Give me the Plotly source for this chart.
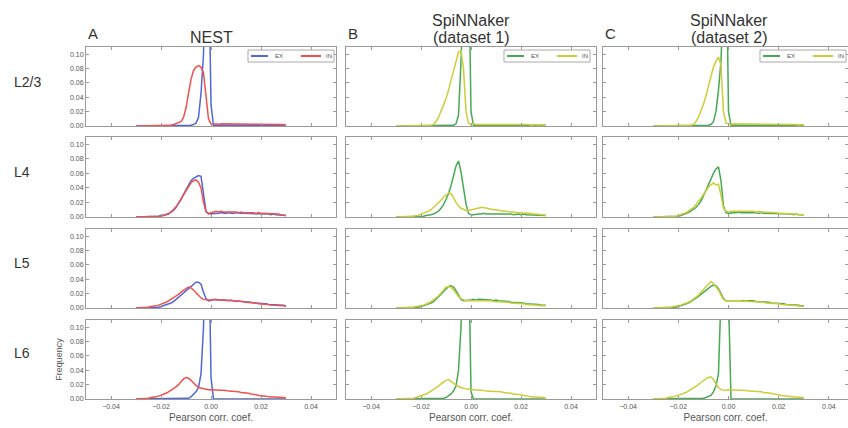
import plotly.graph_objects as go

# ---------------- data ----------------
CORR_BINS = [
    -0.030, -0.029, -0.028, -0.027, -0.026, -0.025, -0.024, -0.023, -0.022, -0.021,
    -0.020, -0.019, -0.018, -0.017, -0.016, -0.015, -0.014, -0.013, -0.012, -0.011,
    -0.010, -0.009, -0.008, -0.007, -0.006, -0.005, -0.004, -0.003, -0.002, -0.001,
    0.000, 0.001, 0.002, 0.003, 0.004, 0.005, 0.006, 0.007, 0.008, 0.009,
    0.010, 0.011, 0.012, 0.013, 0.014, 0.015, 0.016, 0.017, 0.018, 0.019,
    0.020, 0.021, 0.022, 0.023, 0.024, 0.025, 0.026, 0.027, 0.028, 0.029, 0.030,
]

ROW_LABELS = ["L2/3", "L4", "L5", "L6"]
PANEL_LETTERS = ["A", "B", "C"]
COLUMN_TITLES = [["NEST"], ["SpiNNaker", "(dataset 1)"], ["SpiNNaker", "(dataset 2)"]]
SERIES_NAMES = ["EX", "IN"]
X_TICKS = [-0.04, -0.02, 0.00, 0.02, 0.04]
Y_TICKS = [0.00, 0.02, 0.04, 0.06, 0.08, 0.10]

# NEST
NEST_L23_EX = [
    0, 0, 0, 0, 0, 0, 0, 0, 0, 0,
    0, 0, 0, 0, 0, 0, 0, 0, 0, 0,
    0, 0, 0.001, 0.002, 0.004, 0.012, 0.045, 0.10, 0.24, 0.25,
    0.03, 0.001, 0.001, 0.001, 0.001, 0.001, 0.001, 0.001, 0.001, 0.001,
    0.001, 0.001, 0.001, 0.001, 0.001, 0.001, 0.001, 0.001, 0.001, 0.001,
    0.001, 0.001, 0.001, 0.001, 0.001, 0.001, 0.001, 0.001, 0.001, 0.001, 0.001,
]
NEST_L23_IN = [
    0, 0, 0, 0, 0, 0, 0, 0, 0, 0,
    0, 0, 0.001, 0.001, 0.001, 0.002, 0.003, 0.004, 0.006, 0.012,
    0.025, 0.045, 0.065, 0.077, 0.082, 0.084, 0.082, 0.074, 0.045, 0.010,
    0.003, 0.002, 0.003, 0.002, 0.003, 0.003, 0.002, 0.003, 0.003, 0.002,
    0.003, 0.003, 0.002, 0.003, 0.003, 0.002, 0.003, 0.003, 0.002, 0.003,
    0.003, 0.002, 0.003, 0.002, 0.003, 0.002, 0.002, 0.003, 0.002, 0.002, 0.001,
]
NEST_L4_EX = [
    0, 0, 0, 0, 0, 0, 0, 0, 0, 0.001,
    0.002, 0.002, 0.003, 0.004, 0.006, 0.009, 0.013, 0.018, 0.024, 0.031,
    0.038, 0.045, 0.050, 0.053, 0.055, 0.057, 0.056, 0.035, 0.008, 0.004,
    0.004, 0.005, 0.005, 0.005, 0.006, 0.005, 0.005, 0.006, 0.005, 0.005,
    0.006, 0.005, 0.005, 0.005, 0.005, 0.004, 0.005, 0.005, 0.004, 0.005,
    0.004, 0.004, 0.004, 0.004, 0.003, 0.004, 0.003, 0.003, 0.003, 0.003, 0.002,
]
NEST_L4_IN = [
    0, 0, 0, 0, 0, 0, 0, 0.001, 0.001, 0.001,
    0.001, 0.002, 0.003, 0.005, 0.007, 0.010, 0.014, 0.019, 0.024, 0.030,
    0.036, 0.042, 0.047, 0.050, 0.051, 0.048, 0.040, 0.020, 0.007, 0.005,
    0.006, 0.007, 0.008, 0.007, 0.008, 0.007, 0.007, 0.008, 0.007, 0.007,
    0.007, 0.006, 0.007, 0.006, 0.006, 0.007, 0.006, 0.006, 0.005, 0.006,
    0.005, 0.005, 0.005, 0.004, 0.005, 0.004, 0.004, 0.004, 0.003, 0.003, 0.002,
]
NEST_L5_EX = [
    0, 0, 0, 0, 0, 0, 0, 0, 0.001, 0.001,
    0.002, 0.003, 0.004, 0.005, 0.007, 0.009, 0.012, 0.015, 0.018, 0.021,
    0.025, 0.028, 0.031, 0.034, 0.036, 0.036, 0.033, 0.022, 0.013, 0.010,
    0.011, 0.011, 0.012, 0.011, 0.011, 0.011, 0.010, 0.011, 0.010, 0.010,
    0.009, 0.010, 0.009, 0.009, 0.008, 0.008, 0.008, 0.007, 0.007, 0.007,
    0.006, 0.006, 0.006, 0.005, 0.005, 0.005, 0.004, 0.004, 0.004, 0.004, 0.003,
]
NEST_L5_IN = [
    0, 0, 0.001, 0.001, 0.001, 0.001, 0.002, 0.002, 0.003, 0.004,
    0.005, 0.006, 0.008, 0.010, 0.012, 0.014, 0.017, 0.019, 0.022, 0.025,
    0.027, 0.029, 0.028, 0.025, 0.021, 0.017, 0.014, 0.012, 0.011, 0.011,
    0.011, 0.012, 0.011, 0.011, 0.012, 0.011, 0.011, 0.010, 0.011, 0.010,
    0.010, 0.009, 0.010, 0.009, 0.008, 0.008, 0.008, 0.007, 0.007, 0.006,
    0.006, 0.005, 0.005, 0.005, 0.004, 0.004, 0.004, 0.003, 0.003, 0.003, 0.002,
]
NEST_L6_EX = [
    0, 0, 0, 0, 0, 0, 0, 0, 0, 0,
    0, 0, 0, 0, 0, 0, 0, 0, 0, 0,
    0, 0.001, 0.003, 0.006, 0.010, 0.016, 0.035, 0.10, 0.22, 0.25,
    0.03, 0, 0, 0, 0, 0, 0, 0, 0, 0,
    0, 0, 0, 0, 0, 0, 0, 0, 0, 0,
    0, 0, 0, 0, 0, 0, 0, 0, 0, 0, 0,
]
NEST_L6_IN = [
    0, 0, 0.001, 0.001, 0.001, 0.001, 0.002, 0.002, 0.003, 0.004,
    0.005, 0.006, 0.008, 0.010, 0.012, 0.014, 0.017, 0.020, 0.024, 0.028,
    0.030, 0.029, 0.026, 0.022, 0.019, 0.016, 0.015, 0.014, 0.013, 0.013,
    0.013, 0.013, 0.013, 0.012, 0.012, 0.012, 0.012, 0.011, 0.011, 0.011,
    0.010, 0.010, 0.009, 0.009, 0.008, 0.008, 0.007, 0.007, 0.006, 0.005,
    0.005, 0.004, 0.004, 0.003, 0.003, 0.003, 0.002, 0.002, 0.002, 0.002, 0.001,
]

# SpiNNaker dataset 1
SPIN1_L23_EX = [
    0, 0, 0, 0, 0, 0, 0, 0, 0, 0,
    0, 0, 0, 0, 0, 0, 0, 0, 0, 0,
    0, 0, 0, 0.001, 0.003, 0.015, 0.09, 0.25, 0.28, 0.25,
    0.02, 0.001, 0.001, 0.001, 0.001, 0.001, 0.001, 0.001, 0.001, 0.001,
    0.001, 0.001, 0.001, 0.001, 0.001, 0.001, 0.001, 0.001, 0.001, 0.001,
    0.001, 0.001, 0.001, 0.001, 0.001, 0.001, 0.001, 0.001, 0.001, 0.001, 0.001,
]
SPIN1_L23_IN = [
    0, 0, 0, 0, 0, 0, 0, 0, 0, 0,
    0, 0, 0.001, 0.001, 0.001, 0.002, 0.006, 0.012, 0.020, 0.028,
    0.038, 0.050, 0.064, 0.078, 0.092, 0.103, 0.105, 0.080, 0.020, 0.004,
    0.002, 0.003, 0.002, 0.002, 0.003, 0.002, 0.003, 0.002, 0.002, 0.003,
    0.002, 0.003, 0.002, 0.002, 0.002, 0.003, 0.002, 0.002, 0.002, 0.002,
    0.002, 0.002, 0.002, 0.002, 0.001, 0.002, 0.002, 0.001, 0.002, 0.001, 0.001,
]
SPIN1_L4_EX = [
    0, 0, 0, 0, 0, 0, 0, 0, 0, 0,
    0.001, 0.001, 0.002, 0.002, 0.003, 0.004, 0.006, 0.008, 0.012, 0.017,
    0.024, 0.032, 0.043, 0.055, 0.070, 0.077, 0.062, 0.040, 0.018, 0.005,
    0.003, 0.003, 0.004, 0.004, 0.004, 0.005, 0.004, 0.004, 0.005, 0.004,
    0.004, 0.004, 0.005, 0.004, 0.004, 0.004, 0.004, 0.003, 0.004, 0.004,
    0.003, 0.004, 0.003, 0.003, 0.003, 0.003, 0.003, 0.003, 0.002, 0.002, 0.002,
]
SPIN1_L4_IN = [
    0, 0, 0, 0, 0, 0, 0.001, 0.001, 0.002, 0.002,
    0.004, 0.005, 0.006, 0.008, 0.010, 0.013, 0.016, 0.019, 0.023, 0.027,
    0.030, 0.033, 0.032, 0.027, 0.020, 0.015, 0.012, 0.010, 0.009, 0.009,
    0.010, 0.011, 0.011, 0.012, 0.013, 0.013, 0.012, 0.012, 0.011, 0.010,
    0.010, 0.009, 0.009, 0.008, 0.008, 0.007, 0.007, 0.007, 0.006, 0.006,
    0.006, 0.005, 0.005, 0.005, 0.004, 0.004, 0.004, 0.003, 0.003, 0.003, 0.002,
]
SPIN1_L5_EX = [
    0, 0, 0, 0, 0, 0, 0, 0, 0.001, 0.001,
    0.002, 0.003, 0.004, 0.005, 0.007, 0.009, 0.012, 0.015, 0.019, 0.023,
    0.027, 0.030, 0.031, 0.029, 0.024, 0.017, 0.012, 0.010, 0.010, 0.011,
    0.011, 0.012, 0.011, 0.012, 0.012, 0.011, 0.012, 0.011, 0.011, 0.010,
    0.011, 0.010, 0.010, 0.009, 0.009, 0.009, 0.008, 0.008, 0.007, 0.008,
    0.007, 0.007, 0.006, 0.006, 0.006, 0.005, 0.005, 0.005, 0.004, 0.004, 0.004,
]
SPIN1_L5_IN = [
    0, 0, 0, 0, 0.001, 0.001, 0.001, 0.001, 0.002, 0.002,
    0.003, 0.004, 0.005, 0.007, 0.009, 0.011, 0.014, 0.017, 0.021, 0.025,
    0.029, 0.030, 0.029, 0.025, 0.020, 0.016, 0.013, 0.011, 0.010, 0.010,
    0.010, 0.011, 0.011, 0.010, 0.011, 0.011, 0.010, 0.010, 0.010, 0.009,
    0.009, 0.009, 0.009, 0.008, 0.008, 0.008, 0.007, 0.007, 0.007, 0.006,
    0.006, 0.006, 0.005, 0.005, 0.005, 0.004, 0.004, 0.004, 0.003, 0.003, 0.003,
]
SPIN1_L6_EX = [
    0, 0, 0, 0, 0, 0, 0, 0, 0, 0,
    0, 0, 0, 0, 0, 0, 0, 0, 0, 0.001,
    0.002, 0.004, 0.007, 0.011, 0.018, 0.040, 0.10, 0.22, 0.26, 0.22,
    0.01, 0, 0, 0, 0, 0, 0, 0, 0, 0,
    0, 0, 0, 0, 0, 0, 0, 0, 0, 0,
    0, 0, 0, 0, 0, 0, 0, 0, 0, 0, 0,
]
SPIN1_L6_IN = [
    0, 0, 0, 0, 0.001, 0.001, 0.001, 0.001, 0.002, 0.003,
    0.004, 0.005, 0.007, 0.009, 0.011, 0.013, 0.015, 0.018, 0.021, 0.024,
    0.026, 0.027, 0.025, 0.022, 0.019, 0.017, 0.016, 0.015, 0.014, 0.014,
    0.013, 0.013, 0.013, 0.012, 0.012, 0.012, 0.011, 0.011, 0.011, 0.011,
    0.010, 0.010, 0.010, 0.009, 0.009, 0.008, 0.008, 0.007, 0.007, 0.006,
    0.006, 0.005, 0.005, 0.004, 0.003, 0.003, 0.003, 0.002, 0.002, 0.002, 0.001,
]

# SpiNNaker dataset 2
SPIN2_L23_EX = [
    0, 0, 0, 0, 0, 0, 0, 0, 0, 0,
    0, 0, 0, 0, 0, 0, 0, 0, 0, 0,
    0, 0.001, 0.001, 0.002, 0.006, 0.020, 0.050, 0.090, 0.20, 0.28,
    0.02, 0.001, 0.001, 0.001, 0.001, 0.001, 0.001, 0.001, 0.001, 0.001,
    0.001, 0.001, 0.001, 0.001, 0.001, 0.001, 0.001, 0.001, 0.001, 0.001,
    0.001, 0.001, 0.001, 0.001, 0.001, 0.001, 0.001, 0.001, 0.001, 0.001, 0.001,
]
SPIN2_L23_IN = [
    0, 0, 0, 0, 0, 0, 0, 0, 0, 0,
    0, 0, 0, 0.001, 0.001, 0.001, 0.002, 0.006, 0.012, 0.020,
    0.030, 0.042, 0.056, 0.070, 0.082, 0.090, 0.096, 0.085, 0.020, 0.004,
    0.003, 0.002, 0.003, 0.003, 0.002, 0.003, 0.003, 0.002, 0.003, 0.003,
    0.003, 0.002, 0.003, 0.003, 0.003, 0.002, 0.003, 0.002, 0.003, 0.002,
    0.002, 0.003, 0.002, 0.002, 0.002, 0.002, 0.002, 0.002, 0.001, 0.002, 0.001,
]
SPIN2_L4_EX = [
    0, 0, 0, 0, 0, 0, 0, 0, 0, 0,
    0.001, 0.002, 0.003, 0.004, 0.006, 0.008, 0.010, 0.013, 0.017, 0.022,
    0.029, 0.036, 0.043, 0.052, 0.060, 0.066, 0.069, 0.050, 0.015, 0.006,
    0.005, 0.006, 0.006, 0.006, 0.007, 0.006, 0.006, 0.006, 0.007, 0.006,
    0.006, 0.006, 0.005, 0.006, 0.005, 0.005, 0.005, 0.005, 0.005, 0.004,
    0.005, 0.004, 0.004, 0.004, 0.004, 0.004, 0.003, 0.004, 0.003, 0.003, 0.003,
]
SPIN2_L4_IN = [
    0, 0, 0, 0, 0, 0, 0, 0, 0.001, 0.001,
    0.002, 0.003, 0.004, 0.006, 0.008, 0.010, 0.013, 0.017, 0.021, 0.026,
    0.031, 0.036, 0.041, 0.044, 0.047, 0.044, 0.045, 0.030, 0.012, 0.008,
    0.007, 0.008, 0.008, 0.009, 0.008, 0.008, 0.009, 0.008, 0.008, 0.008,
    0.008, 0.007, 0.008, 0.007, 0.007, 0.007, 0.006, 0.006, 0.006, 0.006,
    0.005, 0.005, 0.005, 0.005, 0.004, 0.004, 0.004, 0.004, 0.003, 0.003, 0.003,
]
SPIN2_L5_EX = [
    0, 0, 0, 0, 0, 0, 0, 0, 0.001, 0.001,
    0.002, 0.003, 0.004, 0.005, 0.007, 0.009, 0.011, 0.013, 0.016, 0.019,
    0.022, 0.025, 0.028, 0.030, 0.032, 0.031, 0.027, 0.020, 0.013, 0.010,
    0.010, 0.011, 0.011, 0.010, 0.011, 0.011, 0.010, 0.011, 0.010, 0.010,
    0.010, 0.009, 0.009, 0.009, 0.008, 0.008, 0.008, 0.007, 0.007, 0.007,
    0.006, 0.006, 0.006, 0.005, 0.005, 0.005, 0.004, 0.004, 0.004, 0.003, 0.003,
]
SPIN2_L5_IN = [
    0, 0, 0, 0, 0, 0.001, 0.001, 0.001, 0.002, 0.002,
    0.003, 0.004, 0.005, 0.006, 0.008, 0.010, 0.012, 0.015, 0.018, 0.022,
    0.026, 0.030, 0.034, 0.037, 0.034, 0.030, 0.025, 0.018, 0.012, 0.010,
    0.010, 0.010, 0.011, 0.010, 0.010, 0.010, 0.009, 0.010, 0.009, 0.009,
    0.009, 0.009, 0.008, 0.008, 0.008, 0.007, 0.007, 0.007, 0.006, 0.006,
    0.006, 0.005, 0.005, 0.005, 0.004, 0.004, 0.004, 0.003, 0.003, 0.003, 0.002,
]
SPIN2_L6_EX = [
    0, 0, 0, 0, 0, 0, 0, 0, 0, 0,
    0, 0, 0, 0, 0, 0, 0, 0, 0, 0.001,
    0.001, 0.002, 0.003, 0.005, 0.010, 0.018, 0.035, 0.13, 0.25, 0.28,
    0.15, 0, 0, 0, 0, 0, 0, 0, 0, 0,
    0, 0, 0, 0, 0, 0, 0, 0, 0, 0,
    0, 0, 0, 0, 0, 0, 0, 0, 0, 0, 0,
]
SPIN2_L6_IN = [
    0, 0, 0.001, 0.001, 0.001, 0.001, 0.002, 0.002, 0.003, 0.004,
    0.005, 0.006, 0.007, 0.009, 0.011, 0.013, 0.015, 0.017, 0.020, 0.023,
    0.026, 0.028, 0.030, 0.031, 0.027, 0.021, 0.016, 0.013, 0.012, 0.012,
    0.013, 0.013, 0.013, 0.013, 0.012, 0.012, 0.012, 0.012, 0.011, 0.011,
    0.011, 0.010, 0.010, 0.010, 0.009, 0.009, 0.008, 0.008, 0.007, 0.007,
    0.006, 0.005, 0.005, 0.004, 0.004, 0.003, 0.003, 0.003, 0.002, 0.002, 0.002,
]

PANELS = [
    [(NEST_L23_EX, NEST_L23_IN), (SPIN1_L23_EX, SPIN1_L23_IN), (SPIN2_L23_EX, SPIN2_L23_IN)],
    [(NEST_L4_EX, NEST_L4_IN), (SPIN1_L4_EX, SPIN1_L4_IN), (SPIN2_L4_EX, SPIN2_L4_IN)],
    [(NEST_L5_EX, NEST_L5_IN), (SPIN1_L5_EX, SPIN1_L5_IN), (SPIN2_L5_EX, SPIN2_L5_IN)],
    [(NEST_L6_EX, NEST_L6_IN), (SPIN1_L6_EX, SPIN1_L6_IN), (SPIN2_L6_EX, SPIN2_L6_IN)],
]
for row in PANELS:
    for pair in row:
        for s in pair:
            assert len(s) == len(CORR_BINS), len(s)

# ---------------- style / layout ----------------
W, H = 848, 428
FONT = "Liberation Sans, Arial, sans-serif"
TEXT = "#333333"
FRAME = "#9a9a9a"
TICKTXT = "#555555"
COLORS = [("#5068d8", "#f0524c"), ("#46aa52", "#cdcd3a"), ("#46aa52", "#cdcd3a")]
COL_PX = [(86, 336), (346, 596), (603, 848)]
COL_RANGE = [[-0.05, 0.05], [-0.05, 0.05], [-0.05, -0.05 + (848 - 603) / 2510.0]]
ROW_PX = [(47, 126), (137, 217), (229, 308), (320, 399)]

fig = go.Figure()
layout = dict(
    width=W, height=H,
    margin=dict(l=0, r=0, t=0, b=0, autoexpand=False),
    paper_bgcolor="white", plot_bgcolor="white",
    font=dict(family=FONT, color=TEXT),
    showlegend=False,
)

for r in range(4):
    for c in range(3):
        n = r * 3 + c + 1
        xa = "x" if n == 1 else f"x{n}"
        ya = "y" if n == 1 else f"y{n}"
        x0, x1 = COL_PX[c]
        t0, b0 = ROW_PX[r]
        xaxis = dict(
            domain=[x0 / W, x1 / W], range=COL_RANGE[c], anchor=ya,
            tickvals=X_TICKS, tickformat=".2f", ticks="inside", ticklen=3,
            tickcolor=FRAME, showline=True, linecolor=FRAME, linewidth=1,
            mirror="allticks", showgrid=False, zeroline=False,
            showticklabels=(r == 3), tickfont=dict(size=7, color=TICKTXT),
            ticklabelstandoff=1,
        )
        if r == 3:
            xaxis["title"] = dict(text="Pearson corr. coef.", font=dict(size=10, color=TICKTXT), standoff=4)
        yaxis = dict(
            domain=[1 - b0 / H, 1 - t0 / H], range=[0, 0.11], anchor=xa,
            tickvals=Y_TICKS, tickformat=".2f", ticks="inside", ticklen=3,
            tickcolor=FRAME, showline=True, linecolor=FRAME, linewidth=1,
            mirror="allticks", showgrid=False, zeroline=False,
            showticklabels=(c == 0), tickfont=dict(size=7, color=TICKTXT),
        )
        if r == 3 and c == 0:
            yaxis["title"] = dict(text="Frequency", font=dict(size=9, color=TICKTXT), standoff=5)
        layout["xaxis" if n == 1 else f"xaxis{n}"] = xaxis
        layout["yaxis" if n == 1 else f"yaxis{n}"] = yaxis

        for k in range(2):
            fig.add_trace(go.Scatter(
                x=CORR_BINS, y=PANELS[r][c][k], mode="lines",
                name=SERIES_NAMES[k], xaxis=xa, yaxis=ya,
                line=dict(color=COLORS[c][k], width=1.5),
                hoverinfo="x+y+name",
            ))

annotations = []
shapes = []
def ann(text, xpx, ypx, size, xanchor="center", color=TEXT):
    annotations.append(dict(
        text=text, x=xpx / W, y=1 - ypx / H, xref="paper", yref="paper",
        xanchor=xanchor, yanchor="middle", showarrow=False,
        font=dict(size=size, color=color, family=FONT),
    ))

def paper_line(x0, y0, x1, y1, color, width):
    shapes.append(dict(type="line", xref="paper", yref="paper",
                       x0=x0 / W, y0=1 - y0 / H, x1=x1 / W, y1=1 - y1 / H,
                       line=dict(color=color, width=width)))

# small legends drawn in the top-right of the first row of each column
LEGEND_LEFT = [248, 504, 760]
for c in range(3):
    lx = LEGEND_LEFT[c]
    shapes.append(dict(type="rect", xref="paper", yref="paper",
                       x0=lx / W, x1=(lx + 86) / W, y0=1 - 62 / H, y1=1 - 50 / H,
                       line=dict(color="#aaaaaa", width=1), fillcolor="white", layer="above"))
    paper_line(lx + 3, 56, lx + 20, 56, COLORS[c][0], 2)
    ann(SERIES_NAMES[0], lx + 25, 56.5, 6, "left", TICKTXT)
    paper_line(lx + 53, 56, lx + 73, 56, COLORS[c][1], 2)
    ann(SERIES_NAMES[1], lx + 76, 56.5, 6, "left", TICKTXT)

letter_x = [86, 346, 603]
title_cx = [211, 471, 729]
for c in range(3):
    ann(PANEL_LETTERS[c], letter_x[c], 34, 15, "left")
    lines = COLUMN_TITLES[c]
    if len(lines) == 1:
        ann(lines[0], title_cx[c], 37, 16)
    else:
        ann(lines[0], title_cx[c], 20, 16)
        ann(lines[1], title_cx[c], 37, 16)

row_cy = [82, 172, 263, 353]
for r in range(4):
    ann(ROW_LABELS[r], 12, row_cy[r], 14, "left")

layout["annotations"] = annotations
layout["shapes"] = shapes
fig.update_layout(**layout)
fig.write_html(
    "out.html",
    config={"displayModeBar": False},
    post_script="document.body.style.margin='0px';document.body.style.overflow='hidden';",
)
